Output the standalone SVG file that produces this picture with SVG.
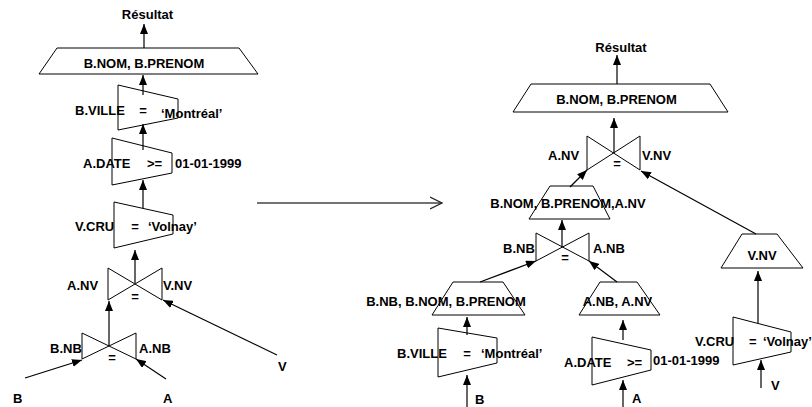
<svg xmlns="http://www.w3.org/2000/svg" width="812" height="407" viewBox="0 0 812 407">
<style>
text{font-family:"Liberation Sans",Arial,sans-serif;font-weight:bold;font-size:13px;fill:#000}
.m{text-anchor:middle}
.shape{fill:none;stroke:#000;stroke-width:1}
.arr{fill:none;stroke:#000;stroke-width:1.2;marker-end:url(#ah)}
.big{fill:none;stroke:#444;stroke-width:1.5;marker-end:url(#open)}
</style>
<defs>
<marker id="ah" markerUnits="userSpaceOnUse" markerWidth="10" markerHeight="8" refX="10" refY="4" orient="auto"><path d="M0,0 L10,4 L0,8 z" fill="#000"/></marker>
<marker id="open" markerUnits="userSpaceOnUse" markerWidth="14" markerHeight="14" refX="12" refY="7" orient="auto"><path d="M0,1 L12,7 L0,13" fill="none" stroke="#222" stroke-width="1.3"/></marker>
</defs>
<rect width="812" height="407" fill="#fff"/>
<g id="connectors">
<path class="arr" d="M144,48 L144,24"/>
<path class="arr" d="M143,95 L143,75"/>
<path class="arr" d="M143,150 L143,124"/>
<path class="arr" d="M143,208 L143,180"/>
<path class="arr" d="M135,283 L135,250"/>
<path class="arr" d="M277,355 L163,300"/>
<path class="arr" d="M109,346 L109,301"/>
<path class="arr" d="M25,378 L82,360"/>
<path class="arr" d="M166,379 L136,359"/>
<path class="big" d="M257,203 L442,203"/>
<path class="arr" d="M617,84 L617,55"/>
<path class="arr" d="M614,153 L614,118"/>
<path class="arr" d="M570,187 L587,170"/>
<path class="arr" d="M756,234 L641,171"/>
<path class="arr" d="M562,247 L562,220"/>
<path class="arr" d="M480,282 L536,261"/>
<path class="arr" d="M617,282 L589,261"/>
<path class="arr" d="M467,335 L467,317"/>
<path class="arr" d="M467,407 L467,375"/>
<path class="arr" d="M623,340 L623,320"/>
<path class="arr" d="M623,407 L623,380"/>
<path class="arr" d="M758,323 L758,271"/>
<path class="arr" d="M761,388 L761,360"/>
</g>
<g id="left-result"><text x="147.5" y="19" class="m">Résultat</text></g>
<g id="left-proj">
<polygon class="shape" points="57,48 239,48 258,74 39,74"/>
<text x="144" y="68" class="m">B.NOM, B.PRENOM</text>
</g>
<g id="left-sel-ville">
<polygon class="shape" points="118,85 178,99 178,118 118,130"/>
<text x="75" y="115">B.VILLE</text>
<text x="143" y="115" class="m">=</text>
<text x="161" y="118">‘Montréal’</text>
</g>
<g id="left-sel-date">
<polygon class="shape" points="112,138 172,153 172,173 112,185"/>
<text x="83" y="168">A.DATE</text>
<text x="147" y="168">&gt;=</text>
<text x="175" y="168">01-01-1999</text>
</g>
<g id="left-sel-cru">
<polygon class="shape" points="114,202 173,215 173,234 114,248"/>
<text x="75" y="231">V.CRU</text>
<text x="135" y="231" class="m">=</text>
<text x="148" y="231">‘Volnay’</text>
</g>
<g id="left-join-nv">
<path class="shape" d="M108,268 L162,300 L162,268 L108,300 Z"/>
<text x="67" y="290">A.NV</text>
<text x="163" y="290">V.NV</text>
<text x="135" y="301" class="m">=</text>
</g>
<g id="left-join-nb">
<path class="shape" d="M82,333 L136,359 L136,333 L82,359 Z"/>
<text x="50" y="353">B.NB</text>
<text x="139" y="353">A.NB</text>
<text x="112" y="362" class="m">=</text>
</g>
<g id="left-B"><text x="13" y="403">B</text></g>
<g id="left-A"><text x="163" y="403">A</text></g>
<g id="left-V"><text x="278" y="371">V</text></g>

<g id="right-result"><text x="621" y="52" class="m">Résultat</text></g>
<g id="right-proj">
<polygon class="shape" points="531,84 710,84 728,112 513,112"/>
<text x="616.5" y="104" class="m">B.NOM, B.PRENOM</text>
</g>
<g id="right-join-nv">
<path class="shape" d="M587,136 L640,170 L640,136 L587,170 Z"/>
<text x="548" y="160">A.NV</text>
<text x="642" y="160">V.NV</text>
<text x="617" y="168" class="m">=</text>
</g>
<g id="right-proj2">
<polygon class="shape" points="550,186 593,186 610,219 529,219"/>
<text x="568" y="208" class="m">B.NOM, B.PRENOM,A.NV</text>
</g>
<g id="right-join-nb">
<path class="shape" d="M536,233 L589,261 L589,233 L536,261 Z"/>
<text x="503" y="253">B.NB</text>
<text x="593" y="253">A.NB</text>
<text x="565" y="262" class="m">=</text>
</g>
<g id="right-proj3">
<polygon class="shape" points="453,282 503,282 525,315 432,315"/>
<text x="446" y="306" class="m">B.NB, B.NOM, B.PRENOM</text>
</g>
<g id="right-proj4">
<polygon class="shape" points="600,282 637,282 660,315 579,315"/>
<text x="617.5" y="306" class="m">A.NB, A.NV</text>
</g>
<g id="right-sel-ville">
<polygon class="shape" points="438,328 497,338 497,363 438,377"/>
<text x="397" y="358">B.VILLE</text>
<text x="467" y="358" class="m">=</text>
<text x="481" y="358">‘Montréal’</text>
</g>
<g id="right-sel-date">
<polygon class="shape" points="592,337 651,350 651,370 592,385"/>
<text x="564" y="367">A.DATE</text>
<text x="627" y="367">&gt;=</text>
<text x="653" y="365">01-01-1999</text>
</g>
<g id="right-proj-vnv">
<polygon class="shape" points="742,234 777,234 803,268 721,268"/>
<text x="762" y="260" class="m">V.NV</text>
</g>
<g id="right-sel-cru">
<polygon class="shape" points="733,317 791,332 791,352 733,365"/>
<text x="695" y="346">V.CRU</text>
<text x="749" y="346">=</text>
<text x="763" y="346">‘Volnay’</text>
</g>
<g id="right-B"><text x="475" y="404">B</text></g>
<g id="right-A"><text x="632" y="403">A</text></g>
<g id="right-V"><text x="771" y="390">V</text></g>
</svg>
